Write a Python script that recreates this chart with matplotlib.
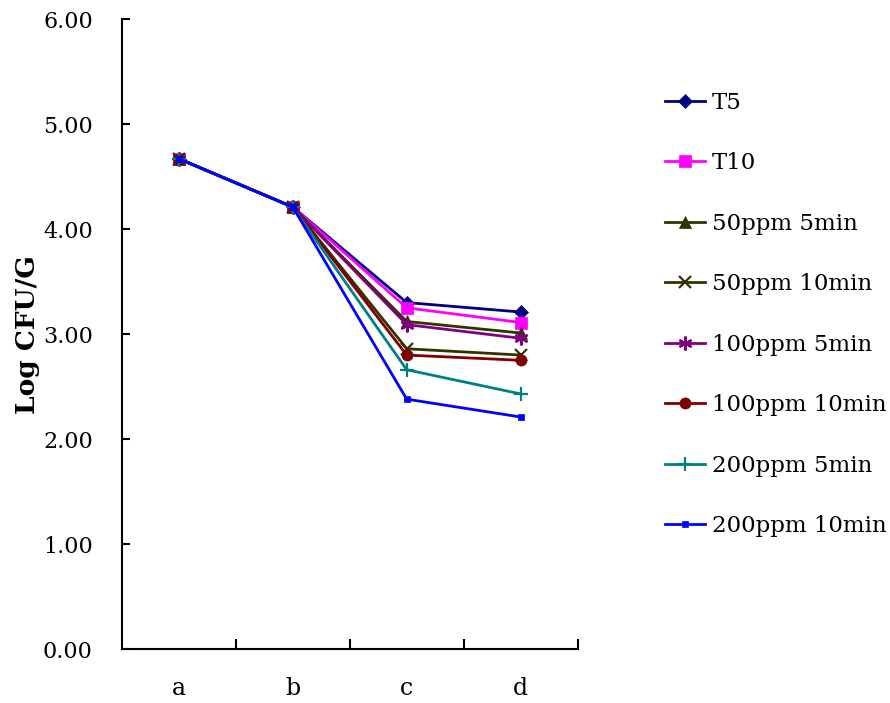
import matplotlib
matplotlib.use("Agg")
import matplotlib.pyplot as plt
from matplotlib.ticker import FixedLocator, FormatStrFormatter

categories = ["a", "b", "c", "d"]
series_names = ["T5", "T10", "50ppm 5min", "50ppm 10min", "100ppm 5min",
                "100ppm 10min", "200ppm 5min", "200ppm 10min"]
T5 = [4.67, 4.21, 3.30, 3.21]
T10 = [4.67, 4.21, 3.25, 3.11]
ppm50_5 = [4.67, 4.21, 3.12, 3.01]
ppm50_10 = [4.67, 4.21, 2.86, 2.80]
ppm100_5 = [4.67, 4.21, 3.09, 2.96]
ppm100_10 = [4.67, 4.21, 2.80, 2.75]
ppm200_5 = [4.67, 4.21, 2.66, 2.43]
ppm200_10 = [4.67, 4.21, 2.38, 2.21]
values = [T5, T10, ppm50_5, ppm50_10, ppm100_5, ppm100_10, ppm200_5, ppm200_10]

colors = ["#000080", "#FF00FF", "#333300", "#333300", "#800080",
          "#800000", "#008080", "#0000FF"]
markers = ["D", "s", "^", "x", (6, 2, 0), "o", "+", "s"]
msizes = [7, 8, 8, 8, 10, 8, 10, 5]

plt.rcParams['font.family'] = ['DejaVu Serif']

fig = plt.figure(figsize=(8.9, 7.03), dpi=100)
ax = fig.add_axes([0.137, 0.0768, 0.512, 0.896])

x = list(range(len(categories)))
for name, vals, c, m, ms in zip(series_names, values, colors, markers, msizes):
    ax.plot(x, vals, color=c, marker=m, markersize=ms, linewidth=2,
            markeredgewidth=1.6 if m in ("x", "+", (6, 2, 0)) else 0.5,
            markeredgecolor=c, label=name)

ax.set_xlim(-0.5, 3.5)
ax.set_ylim(0, 6)
ax.set_yticks([0, 1, 2, 3, 4, 5, 6])
ax.yaxis.set_major_formatter(FormatStrFormatter('%.2f'))
ax.set_xticks(x)
ax.set_xticklabels(categories)
ax.xaxis.set_minor_locator(FixedLocator([0.5, 1.5, 2.5, 3.5]))
ax.tick_params(axis='x', which='major', length=0, pad=20, labelsize=17)
ax.tick_params(axis='x', which='minor', length=7, width=1.5, direction='in')
ax.tick_params(axis='y', which='major', length=6, width=1.5, direction='in',
               labelsize=16, pad=21)
for s in ["top", "right"]:
    ax.spines[s].set_visible(False)
for s in ["left", "bottom"]:
    ax.spines[s].set_linewidth(1.5)

ax.set_ylabel("Log CFU/G", fontsize=19, fontweight='bold', labelpad=2)

leg = ax.legend(loc='upper left', bbox_to_anchor=(0.724, 0.899),
                bbox_transform=fig.transFigure, frameon=False, fontsize=16.5,
                handlelength=1.75, handletextpad=0.3, labelspacing=1.68)

fig.savefig("out.png", dpi=100)
